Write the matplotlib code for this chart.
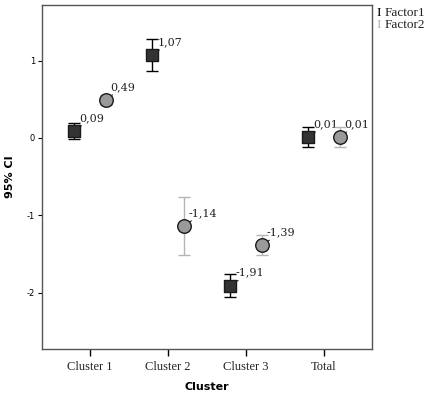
import numpy as np
import matplotlib.pyplot as plt

clusters = ["Cluster 1", "Cluster 2", "Cluster 3", "Total"]
factor1_mean = [0.09, 1.07, -1.91, 0.01]
factor1_err = [0.10, 0.21, 0.15, 0.13]
factor2_mean = [0.49, -1.14, -1.39, 0.01]
factor2_err = [0.06, 0.38, 0.13, 0.13]
label_f1 = ["0,09", "1,07", "-1,91", "0,01"]
label_f2 = ["0,49", "-1,14", "-1,39", "0,01"]
legend_names = ["Factor1", "Factor2"]

fig = plt.figure(figsize=(4.28, 3.99), dpi=100)
ax = fig.add_axes([42 / 428, 1 - 349 / 399, 330 / 428, 344 / 399])

x = np.arange(len(clusters))
offset = 0.2

series = [
    (x - offset, factor1_mean, factor1_err, label_f1, "black", "s", "#333333", 80),
    (x + offset, factor2_mean, factor2_err, label_f2, "#b5b5b5", "o", "#9a9a9a", 95),
]

for xs, ys, errs, labels, ecol, mk, fcol, size in series:
    ax.errorbar(xs, ys, yerr=errs, fmt="none", ecolor=ecol, elinewidth=1.0,
                capsize=4, capthick=1.0, zorder=2)
    ax.scatter(xs, ys, marker=mk, s=size, facecolor=fcol, edgecolor="#1a1a1a",
               linewidth=1.0, zorder=3)
    for xi, yi, lab in zip(xs, ys, labels):
        ax.annotate(lab, xy=(xi, yi), xytext=(5, 10), textcoords="offset pixels",
                    ha="left", va="baseline", fontsize=8, family="DejaVu Serif",
                    color="#222222",
                    arrowprops=dict(arrowstyle="-", color="#222222", lw=0.8,
                                    shrinkA=0, shrinkB=0),
                    zorder=1)

ax.set_xlim(-0.615, 3.615)
ax.set_ylim(-2.73, 1.72)
ax.set_xticks(x)
ax.set_xticklabels(clusters, family="Liberation Serif", fontsize=9, color="#222222")
ax.set_yticks([-2, -1, 0, 1])
ax.set_yticklabels(["-2", "-1", "0", "1"], fontsize=6)
ax.tick_params(axis="x", length=5, width=1.0, direction="out", pad=4)
ax.tick_params(axis="y", length=3, width=0.8, direction="out", pad=2)
for sp in ax.spines.values():
    sp.set_color("#555555")
    sp.set_linewidth(1.0)

ax.set_xlabel("Cluster", fontsize=8, fontweight="bold", labelpad=6)
ax.set_ylabel("95% CI", fontsize=8, fontweight="bold")
ax.yaxis.set_label_coords(-0.082, 0.5)

# legend drawn as in the original: an "I" glyph followed by the name
for i, (name, col) in enumerate(zip(legend_names, ["black", "#b5b5b5"])):
    y = 1 - (13 + 12 * i) / 399
    fig.text(376 / 428, y, "I", family="Liberation Serif", fontsize=9.5,
             color=col, va="center", ha="left")
    fig.text(385 / 428, y, name, family="Liberation Serif", fontsize=9.5,
             color="#222222", va="center", ha="left")

fig.savefig("out.png", dpi=100)
